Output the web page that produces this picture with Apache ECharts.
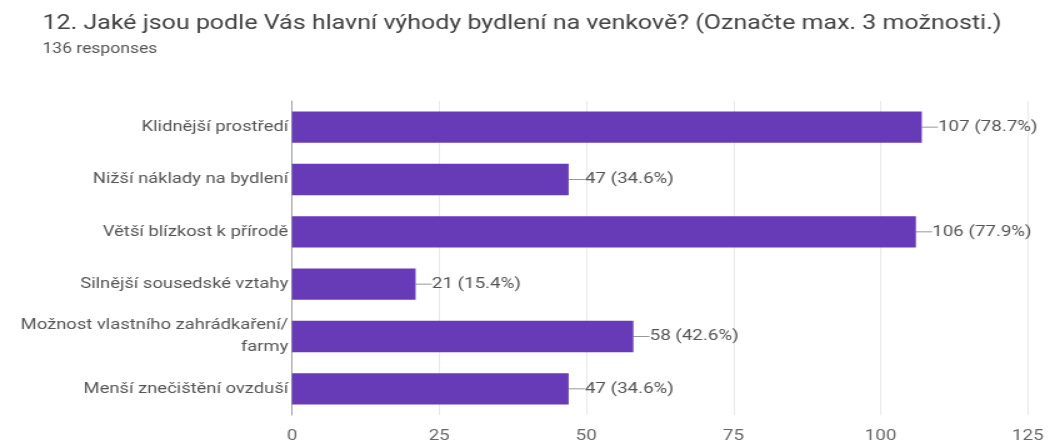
<!DOCTYPE html>
<html>
<head>
<meta charset="utf-8">
<script src="https://cdn.jsdelivr.net/npm/echarts@6/dist/echarts.min.js"></script>
<style>
  html, body { margin: 0; padding: 0; background: #fff; overflow: hidden; }
  /* The chart is laid out narrower and widened horizontally for its wide-set look */
  #chart { width: 839.2px; height: 445px; transform: scaleX(1.25); transform-origin: 0 0; }
</style>
</head>
<body>
<div id="chart"></div>
<script>
// Survey answers, top to bottom
const categories = [
  'Klidnější prostředí',
  'Nižší náklady na bydlení',
  'Větší blízkost k přírodě',
  'Silnější sousedské vztahy',
  'Možnost vlastního zahrádkaření/\nfarmy',
  'Menší znečištění ovzduší'
];
const counts = [107, 47, 106, 21, 58, 47];
const totalResponses = 136;
const xTicks = [0, 25, 50, 75, 100, 125];

const chart = echarts.init(document.getElementById('chart'));
chart.setOption({
  animation: false,
  textStyle: { fontFamily: 'Roboto, "Noto Sans", sans-serif' },
  title: {
    text: '12. Jaké jsou podle Vás hlavní výhody bydlení na venkově? (Označte max. 3 možnosti.)',
    subtext: totalResponses + ' responses',
    left: 29,
    top: 9,
    itemGap: 8,
    textStyle: { fontSize: 20, fontWeight: 'normal', color: '#424242' },
    subtextStyle: { fontSize: 14, color: '#555' }
  },
  grid: { left: 233.6, right: 16.8, top: 101, bottom: 30, containLabel: false },
  xAxis: {
    type: 'value',
    min: xTicks[0],
    max: xTicks[xTicks.length - 1],
    interval: 25,
    axisLine: { show: false },
    axisTick: { show: false },
    axisLabel: { color: '#666', fontSize: 15, margin: 14 },
    splitLine: { show: true, lineStyle: { color: '#e8e8e8' } }
  },
  yAxis: {
    type: 'category',
    inverse: true,
    data: categories,
    axisLine: { show: true, onZero: false, lineStyle: { color: '#9e9e9e' } },
    axisTick: { show: false },
    axisLabel: { color: '#555', fontSize: 14.7, margin: 3, lineHeight: 22 }
  },
  series: [{
    type: 'bar',
    data: counts,
    barWidth: '60%',
    itemStyle: { color: '#673ab7' },
    label: {
      show: true,
      position: 'right',
      distance: 0,
      color: '#555',
      fontSize: 15,
      formatter: p => p.value + ' (' + (p.value / totalResponses * 100).toFixed(1) + '%)'
    },
    labelLayout: { dx: 13 },
    labelLine: { show: true, length2: 0, lineStyle: { color: '#999', width: 1 } }
  }]
});
</script>
</body>
</html>
